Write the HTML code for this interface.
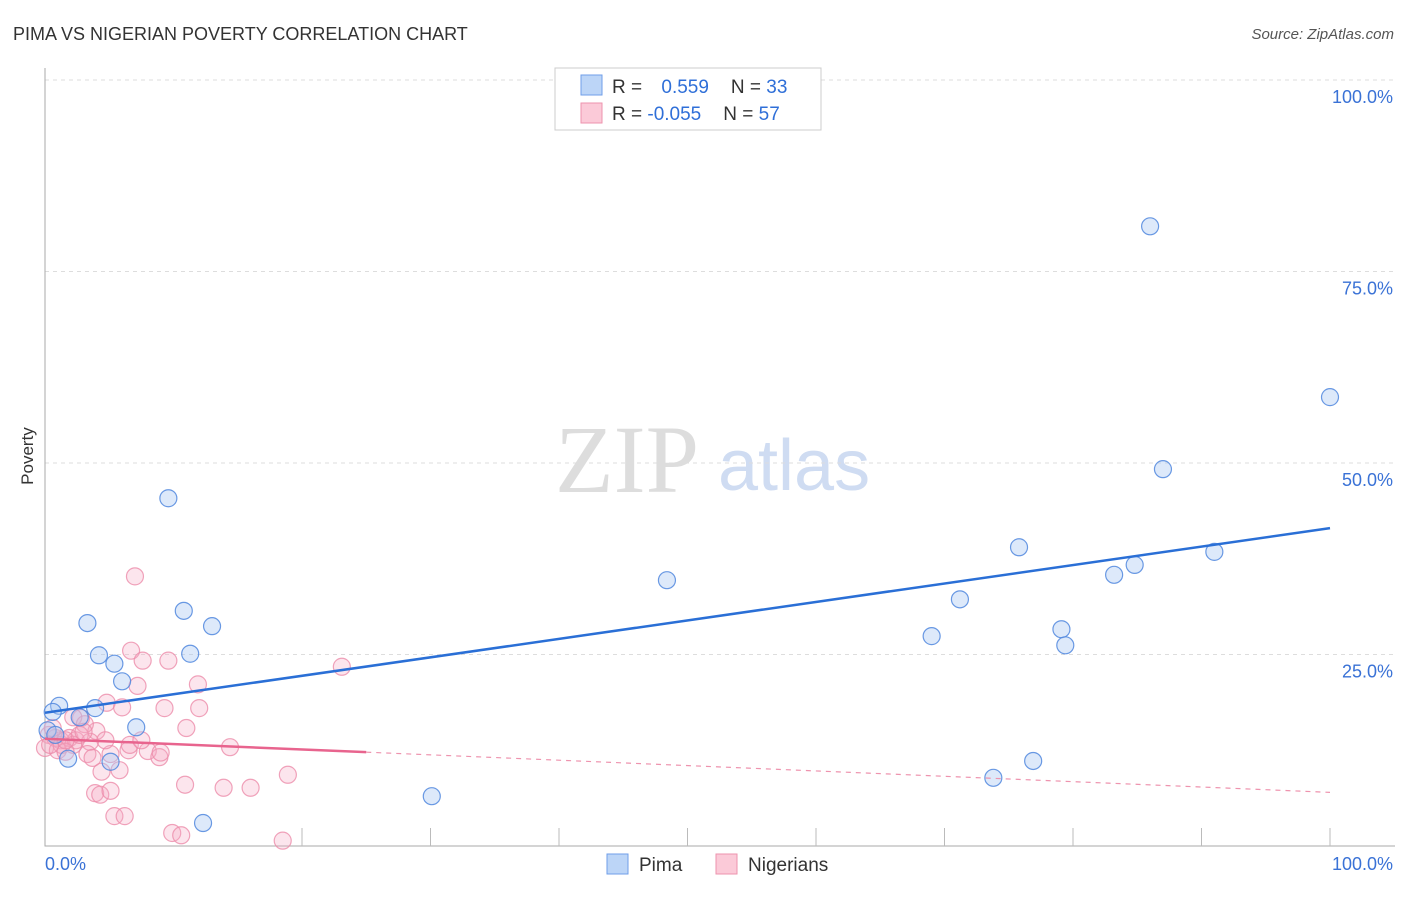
<!DOCTYPE html>
<html><head><meta charset="utf-8"><style>
body{margin:0;background:#fff;font-family:"Liberation Sans",sans-serif}
</style></head><body>
<svg id="c" width="1406" height="892" xmlns="http://www.w3.org/2000/svg" style="font-family:'Liberation Sans',sans-serif">
<text x="13" y="40" font-size="18" fill="#333">PIMA VS NIGERIAN POVERTY CORRELATION CHART</text>
<text x="1394" y="39" font-size="15" fill="#555" font-style="italic" text-anchor="end">Source: ZipAtlas.com</text>
<text x="33" y="456" font-size="17" fill="#333" transform="rotate(-90 33 456)" text-anchor="middle">Poverty</text>
<text x="555" y="492" font-size="96" fill="#ddd" font-family="Liberation Serif,serif">ZIP</text>
<text x="718" y="490" font-size="72" fill="#cfdcf2">atlas</text>
<g id="grid"></g><g id="pts"></g><g id="lines"></g>
<g>
<rect x="555" y="68" width="266" height="62" fill="#fff" stroke="#ccc"/>
<rect x="581" y="75" width="21" height="20" fill="#bcd5f7" stroke="#6f9ee8"/>
<rect x="581" y="103" width="21" height="20" fill="#fbcad8" stroke="#ee93ae"/>
<text x="612" y="93" font-size="19" fill="#333">R = <tspan fill="#2f6fd8" dx="14">0.559</tspan><tspan dx="22" fill="#333">N = </tspan><tspan fill="#2f6fd8">33</tspan></text>
<text x="612" y="120" font-size="19" fill="#333">R = <tspan fill="#2f6fd8">-0.055</tspan><tspan dx="22" fill="#333">N = </tspan><tspan fill="#2f6fd8">57</tspan></text>
</g>
<g>
<rect x="607" y="854" width="21" height="20" fill="#bcd5f7" stroke="#6f9ee8"/>
<text x="639" y="871" font-size="19" fill="#333">Pima</text>
<rect x="716" y="854" width="21" height="20" fill="#fbcad8" stroke="#ee93ae"/>
<text x="748" y="871" font-size="19" fill="#333">Nigerians</text>
</g>
</svg>
<script>
const yTicks=[100,75,50,25];
const yTickLabels=["100.0%","75.0%","50.0%","25.0%"];
const xTickVals=[10,20,30,40,50,60,70,80,90,100];
const pimaX=[86.0,100,87.0,9.6,75.8,91.0,84.8,83.2,48.4,71.2,10.8,3.3,13.0,69.0,79.1,79.4,4.2,11.3,5.4,6.0,1.1,0.6,3.9,7.1,2.7,5.1,1.8,73.8,76.9,30.1,12.3,0.2,0.8];
const pimaY=[80.9,58.6,49.2,45.4,39.0,38.4,36.7,35.4,34.7,32.2,30.7,29.1,28.7,27.4,28.3,26.2,24.9,25.1,23.8,21.5,18.3,17.5,18.0,15.5,16.8,11.0,11.4,8.9,11.1,6.5,3.0,15.1,14.5];
const nigX=[7.0,6.7,7.6,9.6,7.2,11.9,4.8,6.0,9.3,12.0,2.8,2.2,11.0,4.0,0.3,0.8,1.2,0,1.0,1.3,1.9,2.4,3.5,3.1,3.3,5.1,6.5,4.7,8.0,8.9,14.4,5.8,4.4,18.9,10.9,13.9,16.0,3.9,4.3,5.1,5.4,6.2,9.9,10.6,18.5,23.1,2.2,1.6,0.4,0.6,1.6,2.7,3.7,6.6,7.5,9.0,3.0];
const nigY=[35.2,25.5,24.2,24.2,20.9,21.1,18.7,18.1,18.0,18.0,16.7,16.8,15.4,15.0,14.5,14.1,13.8,12.8,12.5,13.2,14.1,13.8,13.6,15.9,12.0,12.0,12.5,13.8,12.4,11.6,12.9,9.9,9.7,9.3,8.0,7.6,7.6,6.9,6.7,7.2,3.9,3.9,1.7,1.4,0.7,23.4,13.2,12.3,13.2,15.4,13.8,14.5,11.5,13.2,13.8,12.2,14.9];
const pimaFit=[17.4,41.5];
const nigFit=[14.0,7.0];
const nigSolidEnd=25;
const NS="http://www.w3.org/2000/svg";
const X0=45,X1=1330,Y0=846,Y1=80;
const sx=v=>X0+(X1-X0)*v/100, sy=v=>Y0-(Y0-Y1)*v/100;
function mk(t,a,p){const e=document.createElementNS(NS,t);for(const k in a)e.setAttribute(k,a[k]);p.appendChild(e);return e;}
const grid=document.getElementById('grid'),pts=document.getElementById('pts'),lines=document.getElementById('lines');
yTicks.forEach((v,i)=>{
 const l=mk('line',{x1:X0,x2:1395,y1:sy(v),y2:sy(v),stroke:'#ddd','stroke-dasharray':'4,4'},grid);
 
 
 const t=mk('text',{x:1393,y:sy(v)+23,'font-size':18,fill:'#3a72d6','text-anchor':'end'},grid);t.textContent=yTickLabels[i];
 
 
});
const ax=mk('path',{d:`M${X0} 68V${Y0}H1395`,stroke:'#aaa',fill:'none'},grid);


xTickVals.forEach(v=>{if(v===10)return;const l=mk('line',{x1:sx(v),x2:sx(v),y1:Y0,y2:Y0-18,stroke:'#bbb'},grid);
 
 });
[[0,"0.0%","start",45],[100,"100.0%","end",1393]].forEach(a=>{const t=mk('text',{x:a[3],y:870,'font-size':18,fill:'#3a72d6','text-anchor':a[2]},grid);t.textContent=a[1];
 
 });
nigX.forEach((x,i)=>{const c=mk('circle',{cx:sx(x),cy:sy(nigY[i]),r:8.5,fill:'rgba(246,170,195,0.3)',stroke:'rgba(236,140,170,0.8)','stroke-width':1.2},pts);
 
 });
pimaX.forEach((x,i)=>{const c=mk('circle',{cx:sx(x),cy:sy(pimaY[i]),r:8.5,fill:'rgba(170,200,242,0.4)',stroke:'rgba(80,135,222,0.85)','stroke-width':1.2},pts);
 
 });
const nf=x=>nigFit[0]+(nigFit[1]-nigFit[0])*x/100;
const l1=mk('line',{x1:sx(0),y1:sy(pimaFit[0]),x2:sx(100),y2:sy(pimaFit[1]),stroke:'#2a6fd6','stroke-width':2.5},lines);


const l2=mk('line',{x1:sx(0),y1:sy(nf(0)),x2:sx(nigSolidEnd),y2:sy(nf(nigSolidEnd)),stroke:'#e8648e','stroke-width':2.5},lines);


const l3=mk('line',{x1:sx(nigSolidEnd),y1:sy(nf(nigSolidEnd)),x2:sx(100),y2:sy(nf(100)),stroke:'#ee93ae','stroke-width':1.2,'stroke-dasharray':'5,5'},lines);


</script>
</body></html>
